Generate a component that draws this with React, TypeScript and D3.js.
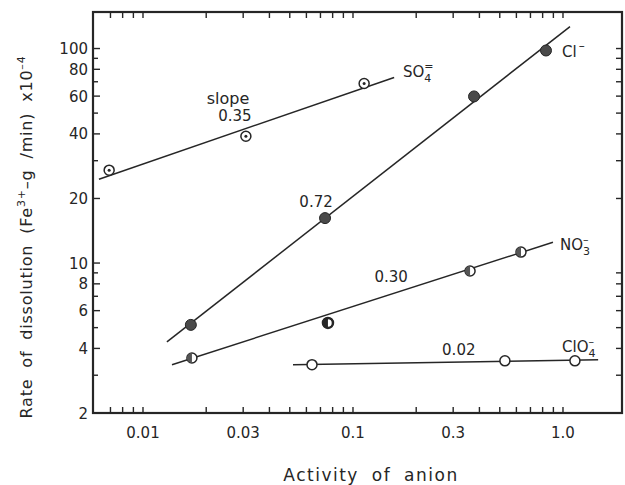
import React from "react";
import * as d3 from "d3";

// ---- data ----
const so4X = [0.0069, 0.0309, 0.113];
const so4Y = [27.1, 39.0, 68.7];
const so4LineX = [0.00617, 0.157];
const so4LineY = [24.6, 73.3];

const clX = [0.0169, 0.0736, 0.377, 0.83];
const clY = [5.15, 16.2, 59.8, 97.9];
const clLineX = [0.013, 1.08];
const clLineY = [4.29, 126.6];

const no3X = [0.0171, 0.076, 0.361, 0.631];
const no3Y = [3.61, 5.26, 9.18, 11.25];
const no3LineX = [0.01374, 0.896];
const no3LineY = [3.36, 12.5];

const clo4X = [0.0638, 0.529, 1.14];
const clo4Y = [3.36, 3.5, 3.5];
const clo4LineX = [0.0518, 1.47];
const clo4LineY = [3.36, 3.54];

const xMajorTicks = [0.01, 0.03, 0.1, 0.3, 1.0];
const xMajorLabels = ["0.01", "0.03", "0.1", "0.3", "1.0"];
const xMinorTicks = [0.007, 0.008, 0.009, 0.01, 0.02, 0.03, 0.04, 0.05, 0.06, 0.07, 0.08, 0.09, 0.1, 0.2, 0.3, 0.4, 0.5, 0.6, 0.7, 0.8, 0.9, 1.0];
const yLabelTicks = [100, 80, 60, 40, 20, 10, 8, 6, 4, 2];
const yMinorTicks = [90, 70, 50, 30, 9, 7, 5, 3];
const yRightTicks = [100, 90, 80, 70, 60, 50, 40, 30, 20, 9, 8, 7, 6, 5, 4, 3];

const slopeTitleX = 0.0254;
const slopeTitleY = 55;
const slopeLabels = ["0.35", "0.72", "0.30", "0.02"];
const slopeLabelX = [0.0274, 0.0667, 0.152, 0.319];
const slopeLabelY = [45.7, 18.2, 8.2, 3.72];

const W = 625;
const H = 485;
const left = 93, right = 622, top = 12, bottom = 413;
const ink = "#262626";
const font = "DejaVu Sans, sans-serif";

export default function App() {
  const x = d3.scaleLog().domain([0.00578, 1.91]).range([left, right]);
  const y = d3.scaleLog().domain([2, 148]).range([bottom, top]);
  const line = d3.line<[number, number]>().x((d) => x(d[0])).y((d) => y(d[1]));
  const mk = (xs: number[], ys: number[]) => xs.map((v, i) => [v, ys[i]] as [number, number]);
  const r = 5;

  const halfPath = (cx: number, cy: number) =>
    `M${cx},${cy - r} A${r},${r} 0 0 0 ${cx},${cy + r} Z`;

  return (
    <svg width={W} height={H} style={{ position: "absolute", left: 0, top: 0, background: "#fff" }}
      fontFamily={font} fill={ink}>
      {/* frame */}
      <rect x={left} y={top} width={right - left} height={bottom - top} fill="none" stroke={ink} strokeWidth={2.2} />
      {/* x ticks (top & bottom, inward) */}
      {xMinorTicks.map((t, i) => (
        <g key={"xt" + i} stroke={ink} strokeWidth={1.4}>
          <line x1={x(t)} x2={x(t)} y1={bottom} y2={bottom - 6} />
          <line x1={x(t)} x2={x(t)} y1={top} y2={top + 6} />
        </g>
      ))}
      {xMajorTicks.map((t, i) => (
        <text key={"xl" + i} x={x(t)} y={438} textAnchor="middle" fontSize={15} stroke="none">
          {xMajorLabels[i]}
        </text>
      ))}
      {/* y ticks left */}
      {yLabelTicks.map((t, i) => (
        <g key={"yl" + i}>
          <line x1={left} x2={left + 7} y1={y(t)} y2={y(t)} stroke={ink} strokeWidth={1.4} />
          <text x={88} y={y(t) + 5.5} textAnchor="end" fontSize={15}>{String(t)}</text>
        </g>
      ))}
      {yMinorTicks.map((t, i) => (
        <line key={"ym" + i} x1={left} x2={left + 5} y1={y(t)} y2={y(t)} stroke={ink} strokeWidth={1.4} />
      ))}
      {yRightTicks.map((t, i) => (
        <line key={"yr" + i} x1={right} x2={right - 6} y1={y(t)} y2={y(t)} stroke={ink} strokeWidth={1.4} />
      ))}

      {/* fit lines */}
      <g fill="none" stroke={ink} strokeWidth={1.5}>
        <path d={line(mk(so4LineX, so4LineY)) || ""} />
        <path d={line(mk(clLineX, clLineY)) || ""} />
        <path d={line(mk(no3LineX, no3LineY)) || ""} />
        <path d={line(mk(clo4LineX, clo4LineY)) || ""} />
      </g>

      {/* SO4 markers: circle with dot */}
      {mk(so4X, so4Y).map((d, i) => (
        <g key={"s" + i}>
          <circle cx={x(d[0])} cy={y(d[1])} r={r} fill="#fff" stroke={ink} strokeWidth={1.5} />
          <circle cx={x(d[0])} cy={y(d[1])} r={1.5} fill={ink} />
        </g>
      ))}
      {/* Cl markers: filled */}
      {mk(clX, clY).map((d, i) => (
        <circle key={"c" + i} cx={x(d[0])} cy={y(d[1])} r={r + 0.5} fill="#4a4a4a" stroke={ink} strokeWidth={1} />
      ))}
      {/* NO3 markers: half filled */}
      {mk(no3X, no3Y).map((d, i) => (
        <g key={"n" + i}>
          <circle cx={x(d[0])} cy={y(d[1])} r={r} fill="#fff" stroke={ink} strokeWidth={1.5} />
          <path d={halfPath(x(d[0]), y(d[1]))} fill={i === 1 ? ink : "#555"} />
          {i === 1 && <circle cx={x(d[0])} cy={y(d[1])} r={r} fill="none" stroke={ink} strokeWidth={2.5} />}
        </g>
      ))}
      {/* ClO4 markers: open */}
      {mk(clo4X, clo4Y).map((d, i) => (
        <circle key={"o" + i} cx={x(d[0])} cy={y(d[1])} r={r} fill="#fff" stroke={ink} strokeWidth={1.5} />
      ))}

      {/* slope labels */}
      <text x={x(slopeTitleX)} y={y(slopeTitleY)} textAnchor="middle" fontSize={16}>slope</text>
      {slopeLabels.map((s, i) => (
        <text key={"sl" + i} x={x(slopeLabelX[i])} y={y(slopeLabelY[i])} textAnchor="middle" fontSize={15}>{s}</text>
      ))}

      {/* ion labels */}
      <text x={403} y={77} fontSize={15}>
        SO<tspan dy={5} fontSize={11}>4</tspan><tspan dx={-7} dy={-12} fontSize={11}>=</tspan>
      </text>
      <text x={562} y={57} fontSize={15}>
        Cl<tspan dx={2} dy={-7} fontSize={12}>–</tspan>
      </text>
      <text x={560} y={250} fontSize={15}>
        NO<tspan dy={5} fontSize={11}>3</tspan><tspan dx={-7} dy={-12} fontSize={11}>–</tspan>
      </text>
      <text x={562} y={352} fontSize={15}>
        ClO<tspan dy={5} fontSize={11}>4</tspan><tspan dx={-7} dy={-12} fontSize={11}>–</tspan>
      </text>

      {/* axis titles */}
      <text x={371} y={481} textAnchor="middle" fontSize={17} letterSpacing={1.5} wordSpacing={6}>
        Activity of anion
      </text>
      <text transform="translate(32,237) rotate(-90)" textAnchor="middle" fontSize={16} letterSpacing={0.8} wordSpacing={5}>
        Rate of dissolution (Fe<tspan dy={-7} fontSize={11}>3+</tspan><tspan dy={7}>–g /min) x10</tspan><tspan dy={-7} fontSize={11}>–4</tspan>
      </text>
    </svg>
  );
}
